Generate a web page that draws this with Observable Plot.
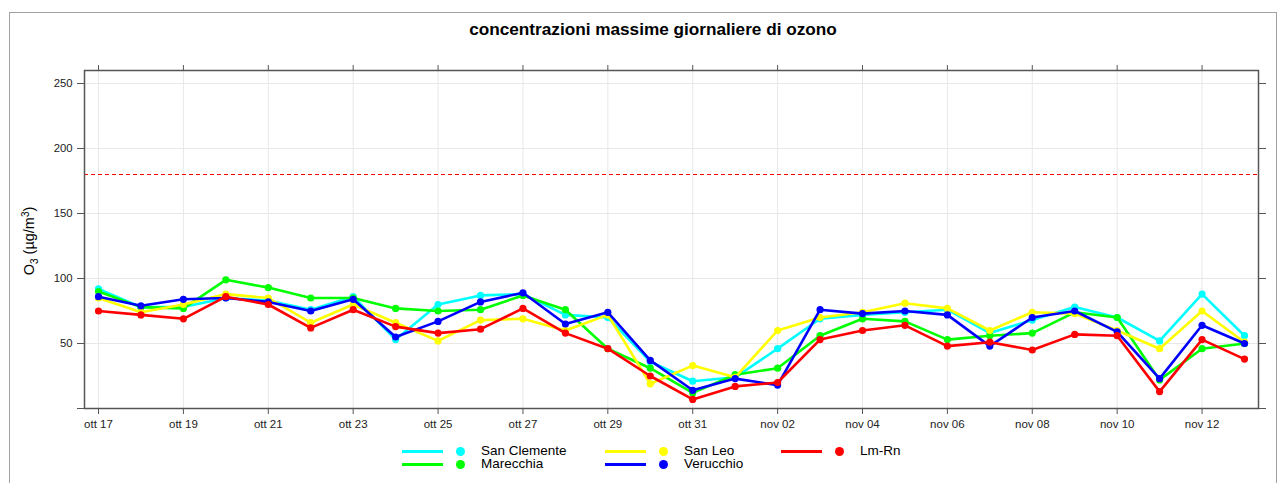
<!DOCTYPE html>
<html>
<head>
<meta charset="utf-8">
<script src="https://cdn.jsdelivr.net/npm/d3@7"></script>
<script src="https://cdn.jsdelivr.net/npm/@observablehq/plot@0.6"></script>
<style>
  html, body { margin: 0; padding: 0; background: #fff; }
  body { width: 1285px; height: 483px; position: relative; overflow: hidden; font-family: "Liberation Sans", Arial, sans-serif; }
  #border { position: absolute; left: 9px; top: 12px; width: 1266px; height: 520px; border: 1px solid #a0a0a0; }
  #title { position: absolute; left: 0; width: 1306px; top: 19px; text-align: center; font-weight: bold; font-size: 17.2px; color: #000; }
  #chart { position: absolute; left: 0; top: 0; }
  #ylab { position: absolute; left: 30px; top: 241px; transform: translate(-50%, -50%) rotate(-90deg); font-size: 14.5px; white-space: nowrap; color: #000; }
  #ylab sub, #ylab sup { font-size: 10px; }
  .leg { position: absolute; font-size: 13.5px; color: #000; }
  .legline { position: absolute; height: 3px; width: 41px; }
  .legdot { position: absolute; width: 9px; height: 9px; border-radius: 50%; }
</style>
</head>
<body>
<div id="border"></div>
<div id="title">concentrazioni massime giornaliere di ozono</div>
<div id="chart"></div>
<div id="ylab">O<sub>3</sub> (µg/m<sup>3</sup>)</div>
<div id="legend"></div>
<script>
const dates = ["2023-10-17","2023-10-18","2023-10-19","2023-10-20","2023-10-21","2023-10-22","2023-10-23",
  "2023-10-24","2023-10-25","2023-10-26","2023-10-27","2023-10-28","2023-10-29","2023-10-30","2023-10-31",
  "2023-11-01","2023-11-02","2023-11-03","2023-11-04","2023-11-05","2023-11-06","2023-11-07","2023-11-08",
  "2023-11-09","2023-11-10","2023-11-11","2023-11-12","2023-11-13"];
const sanClemente = [92,78,78,85,83,76,86,53,80,87,88,72,70,36,21,24,46,69,72,74,76,58,68,78,70,52,88,56];
const marecchia   = [90,78,77,99,93,85,85,77,75,76,87,76,46,31,12,26,31,56,69,67,53,56,58,74,70,22,46,50];
const sanLeo      = [85,74,80,88,85,66,80,66,52,68,69,60,72,19,33,24,60,70,74,81,77,60,74,73,60,46,75,51];
const verucchio   = [86,79,84,85,82,75,84,55,67,82,89,65,74,37,14,23,18,76,73,75,72,48,70,75,59,23,64,50];
const lmRn        = [75,72,69,86,80,62,76,63,58,61,77,58,46,25,7,17,20,53,60,64,48,51,45,57,56,13,53,38];
const seriesNames = ["San Clemente","Marecchia","San Leo","Verucchio","Lm-Rn"];
const seriesColors = ["#00FFFF","#00FF00","#FFFF00","#0000FF","#FF0000"];
const tickLabels = ["ott 17","ott 19","ott 21","ott 23","ott 25","ott 27","ott 29","ott 31",
  "nov 02","nov 04","nov 06","nov 08","nov 10","nov 12"];
const yTicks = [0,50,100,150,200,250];
const threshold = 180;

const seriesValues = [sanClemente, marecchia, sanLeo, verucchio, lmRn];
const parsed = dates.map(d => new Date(d + "T00:00:00Z"));
const rows = [];
seriesNames.forEach((name, s) => {
  seriesValues[s].forEach((v, i) => rows.push({series: name, date: parsed[i], value: v}));
});
const tickDates = parsed.filter((d, i) => i % 2 === 0);
const labelOf = new Map(tickDates.map((d, i) => [+d, tickLabels[i]]));
const pad = 0.33 * 864e5;
const xDomain = [new Date(+parsed[0] - pad), new Date(+parsed[parsed.length - 1] + pad)];

const marks = [
  Plot.gridX(tickDates, {stroke: "#e8e8e8", strokeOpacity: 1}),
  Plot.gridY([50,100,150,200,250], {stroke: "#e8e8e8", strokeOpacity: 1}),
  Plot.ruleY([threshold], {stroke: "#FF0000", strokeWidth: 1, strokeDasharray: "4,3"}),
];
seriesNames.forEach((name, s) => {
  const data = rows.filter(r => r.series === name);
  marks.push(Plot.line(data, {x: "date", y: "value", stroke: seriesColors[s], strokeWidth: 2.6}));
  marks.push(Plot.dot(data, {x: "date", y: "value", fill: seriesColors[s], r: 3.6}));
});
marks.push(
  Plot.axisX({anchor: "bottom", ticks: tickDates, tickFormat: d => labelOf.get(+d), tickSize: 6, tickPadding: 5, fontSize: 11.5, stroke: "#555"}),
  Plot.axisX({anchor: "top", ticks: tickDates, tickFormat: () => "", tickSize: 6, stroke: "#555"}),
  Plot.axisY({anchor: "left", ticks: yTicks, tickFormat: d => d === 0 ? "" : String(d), tickSize: 7, tickPadding: 5, fontSize: 11.3, stroke: "#555"}),
  Plot.axisY({anchor: "right", ticks: yTicks, tickFormat: () => "", tickSize: 7, stroke: "#555"}),
  Plot.frame({stroke: "#555", strokeWidth: 1.5})
);

const chart = Plot.plot({
  width: 1285,
  height: 440,
  marginLeft: 84,
  marginRight: 27,
  marginTop: 70,
  marginBottom: 32,
  style: {fontFamily: "'Liberation Sans', Arial, sans-serif", color: "#222", background: "transparent"},
  x: {type: "utc", domain: xDomain, label: null},
  y: {domain: [0, 260], label: null},
  marks
});
document.getElementById("chart").appendChild(chart);

// Legend (HTML, below the SVG plot area)
const legendPos = [
  {x: 402, y: 451}, {x: 402, y: 464},
  {x: 605, y: 451}, {x: 605, y: 464},
  {x: 781, y: 451}
];
const legend = document.getElementById("legend");
seriesNames.forEach((name, s) => {
  const p = legendPos[s];
  const line = document.createElement("div");
  line.className = "legline";
  line.style.left = p.x + "px"; line.style.top = (p.y - 1.5) + "px";
  line.style.background = seriesColors[s];
  legend.appendChild(line);
  const dot = document.createElement("div");
  dot.className = "legdot";
  dot.style.left = (p.x + 54) + "px"; dot.style.top = (p.y - 4.5) + "px";
  dot.style.background = seriesColors[s];
  legend.appendChild(dot);
  const t = document.createElement("div");
  t.className = "leg";
  t.textContent = name;
  t.style.left = (p.x + 79) + "px"; t.style.top = (p.y - 8) + "px";
  legend.appendChild(t);
});
</script>
</body>
</html>
